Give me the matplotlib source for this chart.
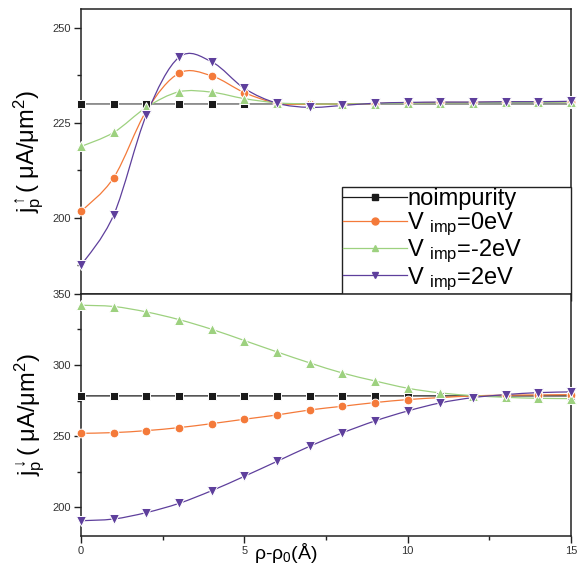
import matplotlib

matplotlib.use("Agg")
import matplotlib.pyplot as plt
import numpy as np
from matplotlib.lines import Line2D
from matplotlib.patches import PathPatch
from matplotlib.path import Path

plt.rcParams["font.family"] = ["Liberation Sans", "DejaVu Sans"]
plt.rcParams["mathtext.fontset"] = "custom"
plt.rcParams["mathtext.rm"] = "Liberation Sans"
plt.rcParams["mathtext.it"] = "Liberation Sans:italic"

# ---- data ----
rho = np.arange(16)

up_noimp = [230.0] * 16
up_v0 = [201.7, 210.6, 228.2, 238.1, 237.4, 233.0, 230.2, 229.9, 230.0, 230.1,
         230.3, 230.4, 230.4, 230.5, 230.5, 230.6]
up_vm2 = [218.8, 222.5, 229.1, 233.2, 233.1, 231.4, 230.3, 230.0, 230.0, 230.1,
          230.2, 230.3, 230.3, 230.4, 230.4, 230.5]
up_v2 = [187.5, 200.8, 227.1, 242.3, 241.1, 234.1, 230.2, 229.1, 229.6, 230.2,
         230.4, 230.5, 230.5, 230.6, 230.6, 230.7]

dn_noimp = [278.3] * 16
dn_v0 = [252.0, 252.5, 253.9, 256.0, 258.8, 261.9, 264.9, 268.4, 271.0, 273.6,
         275.7, 277.1, 278.3, 278.8, 279.0, 279.2]
dn_vm2 = [342.0, 341.1, 337.3, 331.9, 325.1, 317.2, 309.2, 301.5, 294.4, 288.8,
          283.7, 280.4, 278.5, 277.3, 276.6, 276.4]
dn_v2 = [190.6, 191.8, 196.3, 202.8, 211.7, 221.8, 232.3, 242.9, 252.3, 260.7,
         267.7, 273.4, 277.1, 279.2, 280.6, 281.1]

labels = ["noimpurity", r"V $_{\mathrm{imp}}$=0eV", r"V $_{\mathrm{imp}}$=-2eV",
          r"V $_{\mathrm{imp}}$=2eV"]

BLACK = "#1a1a1a"
ORANGE = "#f47a3a"
GREEN = "#9dd17f"
PURPLE = "#5e3f9c"
STYLES = [
    dict(color=BLACK, marker="s", lcolor="#555555", ms=5.5),
    dict(color=ORANGE, marker="o", lcolor=ORANGE, ms=6.3),
    dict(color=GREEN, marker="^", lcolor=GREEN, ms=6.8),
    dict(color=PURPLE, marker="v", lcolor=PURPLE, ms=6.8),
]


def smooth_path(x, y):
    """Catmull-Rom curve through the points, as cubic bezier segments."""
    pts = np.column_stack([x, y]).astype(float)
    ext = np.vstack([pts[0], pts, pts[-1]])
    verts = [pts[0]]
    codes = [Path.MOVETO]
    for i in range(len(pts) - 1):
        p0, p1, p2, p3 = ext[i], ext[i + 1], ext[i + 2], ext[i + 3]
        verts += [p1 + (p2 - p0) / 6, p2 - (p3 - p1) / 6, p2]
        codes += [Path.CURVE4] * 3
    return Path(verts, codes)


def draw(ax, series, noimp_color):
    for k, (yv, st) in enumerate(zip(series, STYLES)):
        lc = st["lcolor"] if k else noimp_color
        ax.add_patch(PathPatch(smooth_path(rho, yv), fill=False, edgecolor=lc,
                               lw=0.9, zorder=2 + k))
        ax.plot(rho, yv, ls="none", marker=st["marker"], ms=st["ms"],
                mfc=st["color"], mec="white", mew=0.7, zorder=6 + k, clip_on=False)


fig = plt.figure(figsize=(5.79, 5.64), dpi=100)
ax1 = fig.add_axes([0.140, 0.479, 0.846, 0.505])
ax2 = fig.add_axes([0.140, 0.050, 0.846, 0.429])

draw(ax1, [up_noimp, up_v0, up_vm2, up_v2], "#555555")
draw(ax2, [dn_noimp, dn_v0, dn_vm2, dn_v2], BLACK)

for ax in (ax1, ax2):
    ax.set_xlim(0, 15)
    ax.set_xticks([0, 5, 10, 15])
    ax.set_xticks([2.5, 7.5, 12.5], minor=True)
    for s in ax.spines.values():
        s.set_linewidth(1.1)
        s.set_color("#222222")
    ax.tick_params(axis="both", which="both", color="#222222", labelcolor="#333333",
                   labelsize=8, width=1.0, direction="out", right=False, top=False,
                   pad=2.5)
    ax.tick_params(which="major", length=5)
    ax.tick_params(which="minor", length=3)

ax1.set_ylim(180, 255)
ax1.set_yticks([200, 225, 250])
ax1.set_yticks([187.5, 212.5, 237.5], minor=True)
ax1.tick_params(axis="x", labelbottom=False)

ax2.set_ylim(180, 350)
ax2.set_yticks([200, 250, 300, 350])
ax2.set_yticks([225, 275, 325], minor=True)

ax1.set_ylabel(r"j$_\mathrm{p}^{\uparrow}$( $\mathrm{\mu}$A/$\mathrm{\mu}$m$^2$)",
               fontsize=17, labelpad=4)
ax2.set_ylabel(r"j$_\mathrm{p}^{\downarrow}$( $\mathrm{\mu}$A/$\mathrm{\mu}$m$^2$)",
               fontsize=17, labelpad=4)
ax2.set_xlabel(r"$\mathrm{\rho}$-$\mathrm{\rho}_0$(Å)", fontsize=14)
ax2.xaxis.set_label_coords(0.418, -0.02)

handles = [Line2D([0], [0], color=st["lcolor"] if k else BLACK, lw=0.9,
                  marker=st["marker"], ms=5, mfc=st["color"], mec=st["color"])
           for k, st in enumerate(STYLES)]
leg = ax1.legend(handles, labels, loc="lower left", bbox_to_anchor=(0.533, 0.0, 0.467, 0.41),
                 mode="expand", fontsize=17, handlelength=2.7, handletextpad=0.0,
                 labelspacing=0.0, borderpad=0.05, borderaxespad=0.0, fancybox=False,
                 framealpha=1, edgecolor="#222222")
leg.get_frame().set_linewidth(1.0)
leg.set_zorder(20)

fig.savefig("out.png", dpi=100)
